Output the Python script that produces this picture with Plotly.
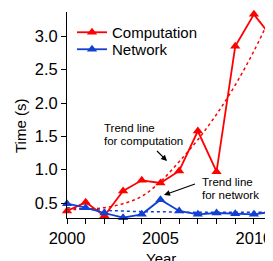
import plotly.graph_objects as go

# ---- data ----
years = [2000, 2001, 2002, 2003, 2004, 2005, 2006, 2007, 2008, 2009, 2010, 2011]
computation = [0.38, 0.51, 0.31, 0.68, 0.84, 0.80, 0.98, 1.58, 0.97, 2.85, 3.33, 2.97]
network = [0.49, 0.43, 0.35, 0.28, 0.33, 0.55, 0.38, 0.33, 0.35, 0.34, 0.33, 0.37]
trend_computation = [0.40, 0.41, 0.43, 0.49, 0.60, 0.82, 1.12, 1.45, 1.83, 2.27, 2.78, 3.36]
trend_network = [0.43, 0.41, 0.39, 0.38, 0.37, 0.37, 0.36, 0.36, 0.36, 0.36, 0.36, 0.36]
x_tick_vals = years
x_tick_text = ["2000", "", "", "", "", "2005", "", "", "", "", "2010", ""]
y_tick_vals = [0.5, 1.0, 1.5, 2.0, 2.5, 3.0]

RED = "#ff0000"
BLUE = "#1240d0"
FONT = "Liberation Sans, Arial, sans-serif"

# page body has an 8px default margin; size the figure so it fills the rest of the window
OFF = 8
WIN_W, WIN_H = 273, 261
W, H = WIN_W - OFF, WIN_H - OFF
ML, MR, MT, MB = 67 - OFF, 0, 12 - OFF, WIN_H - 218
PW, PH = W - ML - MR, H - MT - MB


def px_x(p):
    return (p - OFF - ML) / PW


def px_y(p):
    return (H - MB - (p - OFF)) / PH


fig = go.Figure()
fig.add_trace(go.Scatter(x=years, y=trend_computation, mode="lines",
                         line=dict(color=RED, width=1.5, dash="dot", shape="spline"),
                         showlegend=False, hoverinfo="skip"))
fig.add_trace(go.Scatter(x=years, y=trend_network, mode="lines",
                         line=dict(color=BLUE, width=1.5, dash="dot", shape="spline"),
                         showlegend=False, hoverinfo="skip"))
fig.add_trace(go.Scatter(x=years, y=computation, mode="lines+markers", name="Computation", legend="legend",
                         line=dict(color=RED, width=1.8), marker=dict(symbol="triangle-up", size=9, color=RED),
                         cliponaxis=False))
fig.add_trace(go.Scatter(x=years, y=network, mode="lines+markers", name="Network", legend="legend2",
                         line=dict(color=BLUE, width=1.8), marker=dict(symbol="triangle-up", size=9, color=BLUE),
                         cliponaxis=False))

TXT = dict(size=11.5, color="black", family=FONT)
annotations = [
    dict(text="Trend line", x=px_x(102), y=px_y(128), xref="paper", yref="paper", xanchor="left", yanchor="middle",
         showarrow=False, font=TXT),
    dict(text="for computation", x=px_x(102), y=px_y(141), xref="paper", yref="paper", xanchor="left",
         yanchor="middle", showarrow=False, font=TXT),
    dict(text="Trend line", x=px_x(200), y=px_y(182), xref="paper", yref="paper", xanchor="left", yanchor="middle",
         showarrow=False, font=TXT),
    dict(text="for network", x=px_x(200), y=px_y(195), xref="paper", yref="paper", xanchor="left", yanchor="middle",
         showarrow=False, font=TXT),
    dict(text=" ", x=px_x(167), y=px_y(161), xref="paper", yref="paper", showarrow=True, ax=-13, ay=-13,
         arrowhead=2, arrowsize=1, arrowwidth=1.2, arrowcolor="black", standoff=0, startstandoff=0),
    dict(text=" ", x=px_x(164), y=px_y(195), xref="paper", yref="paper", showarrow=True, ax=34, ay=-12,
         arrowhead=2, arrowsize=1, arrowwidth=1.2, arrowcolor="black", standoff=0, startstandoff=0),
    dict(text="Time (s)", x=px_x(20), y=px_y(126), xref="paper", yref="paper", textangle=-90,
         xanchor="center", yanchor="middle", showarrow=False, font=dict(size=15, color="black", family=FONT)),
    dict(text="Year", x=px_x(161), y=px_y(248), xref="paper", yref="paper", xanchor="center", yanchor="top",
         showarrow=False, font=dict(size=15, color="black", family=FONT)),
]

LEG_FONT = dict(size=15, family=FONT, color="black")
fig.update_layout(
    width=W, height=H,
    margin=dict(l=ML, r=MR, t=MT, b=MB, pad=0),
    paper_bgcolor="white", plot_bgcolor="white",
    font=dict(family=FONT, color="black"),
    showlegend=True,
    legend=dict(x=px_x(72), y=px_y(16), xanchor="left", yanchor="top", bgcolor="rgba(0,0,0,0)",
                font=LEG_FONT, borderwidth=0),
    legend2=dict(x=px_x(72), y=px_y(33), xanchor="left", yanchor="top", bgcolor="rgba(0,0,0,0)",
                 font=LEG_FONT, borderwidth=0),
    annotations=annotations,
    xaxis=dict(range=[2000, 2011.02], tickmode="array", tickvals=x_tick_vals, ticktext=x_tick_text,
               ticks="outside", ticklen=5, tickcolor="black", showline=True, linecolor="black", linewidth=1,
               showgrid=False, zeroline=False, tickfont=dict(size=16.5, family=FONT, color="black")),
    yaxis=dict(range=[0.275, 3.365], tickmode="array", tickvals=y_tick_vals, tickformat=".1f",
               ticks="outside", ticklen=5, tickcolor="black", showline=True, linecolor="black", linewidth=1,
               showgrid=False, zeroline=False, tickfont=dict(size=16.5, family=FONT, color="black")),
)

fig.write_html("out.html")
